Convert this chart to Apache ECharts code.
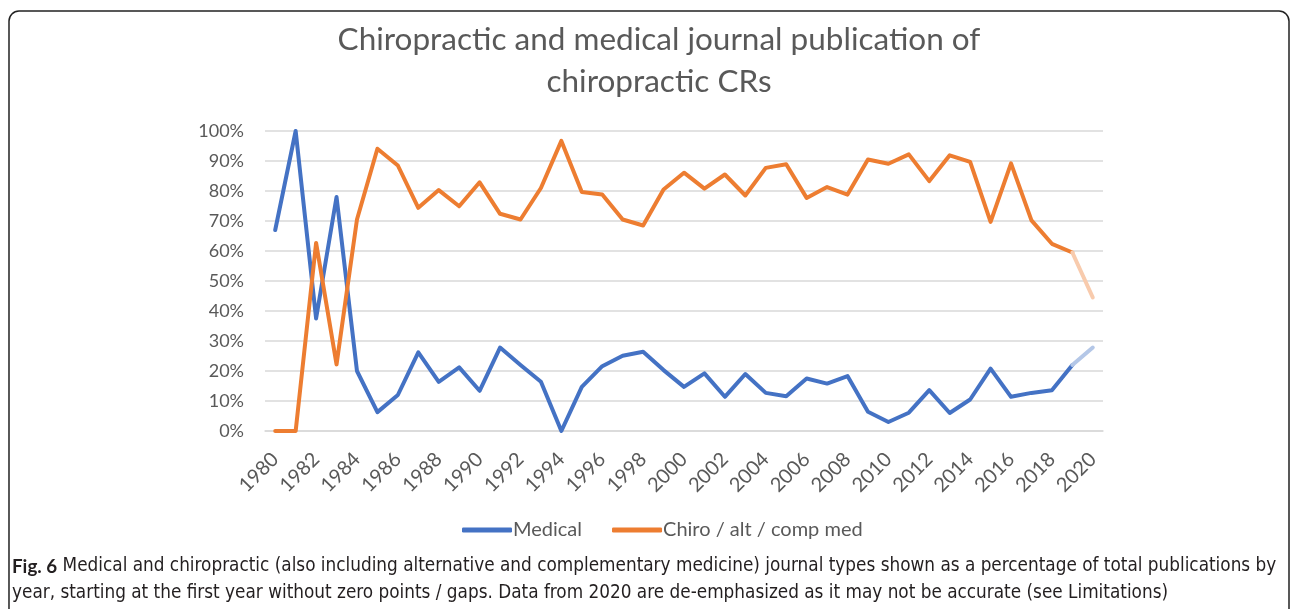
<!DOCTYPE html>
<html>
<head>
<meta charset="utf-8">
<title>Chiropractic and medical journal publication of chiropractic CRs</title>
<script src="https://cdn.jsdelivr.net/npm/echarts@6/dist/echarts.min.js"></script>
<style>
  html, body { margin: 0; padding: 0; background: #fff; }
  #chart { width: 1292px; height: 609px; }
</style>
</head>
<body>
<div id="chart"></div>
<script>
// years on the category axis
const years = [
  '1980', '1981', '1982', '1983', '1984', '1985', '1986', '1987', '1988', '1989',
  '1990', '1991', '1992', '1993', '1994', '1995', '1996', '1997', '1998', '1999',
  '2000', '2001', '2002', '2003', '2004', '2005', '2006', '2007', '2008', '2009',
  '2010', '2011', '2012', '2013', '2014', '2015', '2016', '2017', '2018', '2019',
  '2020',
]

// percentage of publications
const medical = [
  67, 100, 37.5, 78, 20, 6.3, 12, 26.2, 16.4, 21.2,
  13.4, 27.8, 22, 16.4, 0, 14.7, 21.6, 25.1, 26.4, 20.3,
  14.7, 19.2, 11.4, 19, 12.7, 11.6, 17.5, 15.8, 18.3, 6.4,
  3.0, 6.1, 13.6, 6.0, 10.5, 20.8, 11.4, 12.7, 13.6, 22,
  27.8,
]
const chiro = [
  0, 0, 62.7, 22.2, 70.5, 94.1, 88.5, 74.4, 80.3, 74.9,
  82.9, 72.4, 70.5, 81, 96.7, 79.7, 78.8, 70.5, 68.5, 80.5,
  86.1, 80.8, 85.5, 78.5, 87.7, 88.9, 77.7, 81.3, 78.8, 90.5,
  89.1, 92.2, 83.3, 91.9, 89.7, 69.7, 89.2, 70.2, 62.4, 59.5,
  44.5,
]

const yTicks = { min: 0, max: 100, step: 10 }
const seriesNames = ['Medical', 'Chiro / alt / comp med']
const titleText = 'Chiropractic and medical journal publication of\nchiropractic CRs'
const captionBold = 'Fig. 6'
const captionLines = [
  ' Medical and chiropractic (also including alternative and complementary medicine) journal types shown as a percentage of total publications by',
  'year, starting at the first year without zero points / gaps. Data from 2020 are de-emphasized as it may not be accurate (see Limitations)',
]

// the last year (2020) is drawn faded
const lastSolid = years.length - 2
const solidPart = (arr) => arr.map((v, i) => (i <= lastSolid ? v : null))
const fadedPart = (arr) => arr.map((v, i) => (i >= lastSolid ? v : null))

const textGrey = '#595959'
const blue = '#4472C4'
const orange = '#ED7D31'

const lineSeries = (name, data, color) => ({
  name,
  type: 'line',
  data,
  symbol: 'none',
  connectNulls: false,
  silent: true,
  lineStyle: { color, width: 4, cap: 'round', join: 'round' },
  itemStyle: { color },
})

const chart = echarts.init(document.getElementById('chart'), null, { renderer: 'canvas' })

chart.setOption({
  animation: false,
  backgroundColor: '#fff',
  legend: {
    data: seriesNames,
    bottom: 64,
    left: 457,
    icon: 'roundRect',
    itemWidth: 50,
    itemHeight: 5,
    itemGap: 30,
    textStyle: { fontFamily: 'Lato', fontSize: 20, color: textGrey, padding: [0, 0, 0, -4] },
  },
  grid: { left: 265, right: 189, top: 131, bottom: 178, containLabel: false },
  xAxis: {
    type: 'category',
    data: years,
    boundaryGap: true,
    axisLine: { show: true, lineStyle: { color: '#d9d9d9', width: 1.5 } },
    axisTick: { show: false },
    axisLabel: {
      interval: 1,
      rotate: 45,
      margin: 25,
      fontFamily: 'Lato',
      fontSize: 20,
      color: textGrey,
    },
  },
  yAxis: {
    type: 'value',
    min: yTicks.min,
    max: yTicks.max,
    interval: yTicks.step,
    axisLine: { show: false },
    axisTick: { show: false },
    splitLine: { lineStyle: { color: '#d9d9d9', width: 1.5 } },
    axisLabel: {
      formatter: '{value}%',
      margin: 21,
      fontFamily: 'Lato',
      fontSize: 18,
      color: textGrey,
    },
  },
  series: [
    lineSeries(seriesNames[0], solidPart(medical), blue),
    lineSeries(seriesNames[1], solidPart(chiro), orange),
    lineSeries('Medical (2020)', fadedPart(medical), '#B4C7E7'),
    lineSeries('Chiro (2020)', fadedPart(chiro), '#F8CBAD'),
  ],
  graphic: [
    {
      type: 'rect',
      silent: true,
      shape: { x: 9, y: 11, width: 1280, height: 640, r: 10 },
      style: { fill: null, stroke: '#222', lineWidth: 1.5 },
    },
    // chart title, centred over the plot the way the original sits
    {
      type: 'text',
      silent: true,
      x: 659,
      y: 61,
      style: {
        text: titleText,
        font: '31.5px Lato',
        fill: textGrey,
        lineHeight: 42,
        align: 'center',
        verticalAlign: 'middle',
      },
    },
    {
      type: 'text',
      silent: true,
      left: 12,
      top: 553,
      style: {
        text: '{b|' + captionBold + '}' + captionLines[0] + '\n' + captionLines[1],
        font: '18.8px "Liberation Sans Narrow", "DejaVu Sans Condensed", Lato',
        fill: '#231f20',
        lineHeight: 27,
        rich: {
          b: { fontWeight: 'bold', fontSize: 18.8, fontFamily: '"Liberation Sans Narrow", Lato', fill: '#231f20' },
        },
      },
    },
  ],
})
</script>
</body>
</html>
